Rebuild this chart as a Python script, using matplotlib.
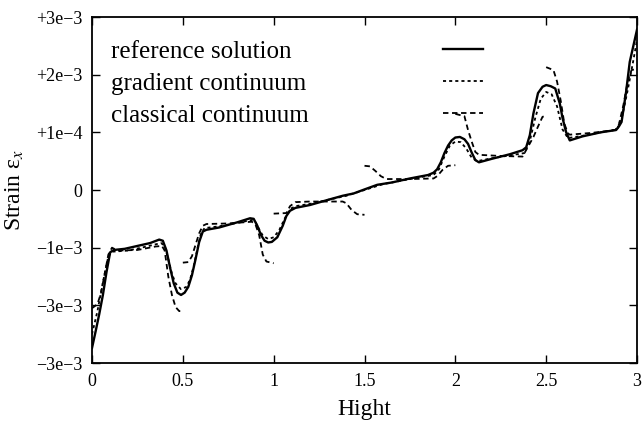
import numpy as np
import matplotlib
matplotlib.use("Agg")
import matplotlib.pyplot as plt

plt.rcParams['font.family'] = ['Liberation Serif', 'DejaVu Serif']
plt.rcParams['mathtext.fontset'] = 'stix'

# ---------------- data (strain in units of 1e-3) ----------------
ref_x = [0.00, 0.02, 0.04, 0.06, 0.08, 0.10, 0.12, 0.18, 0.25, 0.32, 0.37, 0.39, 0.41, 0.43,
         0.45, 0.47, 0.49, 0.51, 0.53, 0.55, 0.57, 0.59, 0.61, 0.63, 0.70, 0.80, 0.87, 0.89,
         0.91, 0.93, 0.95, 0.97, 0.99, 1.02, 1.05, 1.07, 1.09, 1.12, 1.20, 1.30, 1.38, 1.44,
         1.50, 1.57, 1.65, 1.75, 1.85, 1.88, 1.90, 1.92, 1.94, 1.96, 1.98, 2.00, 2.025, 2.05,
         2.07, 2.09, 2.11, 2.13, 2.20, 2.30, 2.37, 2.39, 2.41, 2.43, 2.455, 2.48, 2.50, 2.525,
         2.55, 2.575, 2.59, 2.61, 2.63, 2.70, 2.80, 2.885, 2.90, 2.915, 2.94, 2.96, 2.98, 3.00]
ref_y = [-2.74, -2.45, -2.15, -1.82, -1.42, -1.08, -1.04, -1.02, -0.97, -0.92, -0.86, -0.88,
         -1.05, -1.35, -1.62, -1.78, -1.82, -1.78, -1.68, -1.48, -1.20, -0.90, -0.72, -0.69,
         -0.65, -0.56, -0.49, -0.50, -0.62, -0.78, -0.88, -0.91, -0.90, -0.82, -0.62, -0.45,
         -0.36, -0.31, -0.26, -0.17, -0.10, -0.06, 0.01, 0.09, 0.13, 0.20, 0.26, 0.30, 0.36,
         0.48, 0.64, 0.77, 0.86, 0.91, 0.92, 0.88, 0.80, 0.65, 0.52, 0.48, 0.54, 0.62, 0.69,
         0.74, 0.95, 1.33, 1.68, 1.79, 1.82, 1.80, 1.76, 1.50, 1.25, 1.00, 0.86, 0.93, 1.00,
         1.04, 1.10, 1.18, 1.70, 2.22, 2.50, 2.78]

grad_x = [0.00, 0.03, 0.06, 0.09, 0.11, 0.20, 0.30, 0.38, 0.40, 0.42, 0.44, 0.46, 0.49, 0.52,
          0.54, 0.56, 0.58, 0.60, 0.62, 0.70, 0.80, 0.88, 0.90, 0.92, 0.94, 0.97, 1.00, 1.03,
          1.06, 1.09, 1.12, 1.20, 1.30, 1.40, 1.50, 1.60, 1.70, 1.80, 1.88, 1.91, 1.94, 1.97,
          2.00, 2.03, 2.06, 2.09, 2.12, 2.20, 2.30, 2.38, 2.41, 2.44, 2.47, 2.50, 2.53, 2.56,
          2.59, 2.62, 2.70, 2.80, 2.89, 2.92, 2.95, 2.98, 3.00]
grad_y = [-2.50, -2.10, -1.60, -1.15, -1.07, -1.05, -0.98, -0.92, -0.97, -1.20, -1.45, -1.62,
          -1.72, -1.68, -1.55, -1.32, -1.02, -0.75, -0.66, -0.63, -0.57, -0.52, -0.56, -0.68,
          -0.79, -0.85, -0.82, -0.70, -0.50, -0.33, -0.28, -0.24, -0.17, -0.10, 0.00, 0.10,
          0.16, 0.22, 0.26, 0.36, 0.58, 0.77, 0.84, 0.83, 0.72, 0.56, 0.50, 0.55, 0.60, 0.64,
          0.85, 1.25, 1.58, 1.70, 1.66, 1.45, 1.05, 0.90, 0.94, 1.00, 1.05, 1.30, 1.75, 2.25,
          2.60]

# classical continuum: element-wise solution, discontinuous at element borders (None = break)
cls_x = [0.00, 0.03, 0.05, 0.07, 0.09, 0.11, 0.14, 0.25, 0.35, 0.385, 0.40, 0.42, 0.44, 0.46,
         0.48, 0.50, None,
         0.50, 0.53, 0.55, 0.57, 0.59, 0.61, 0.63, 0.75, 0.88, 0.90, 0.92, 0.94, 0.96, 1.00, None,
         1.00, 1.07, 1.09, 1.12, 1.20, 1.38, 1.40, 1.43, 1.46, 1.50, None,
         1.50, 1.53, 1.56, 1.59, 1.62, 1.75, 1.88, 1.90, 1.93, 1.96, 2.00, None,
         2.00, 2.05, 2.07, 2.09, 2.11, 2.13, 2.25, 2.37, 2.40, 2.43, 2.455, 2.48, 2.50, None,
         2.50, 2.54, 2.56, 2.58, 2.60, 2.62, 2.63, 2.75, 2.88, 2.90, 2.925, 2.95, 2.97, 3.00]
cls_y = [-2.05, -1.98, -1.78, -1.45, -1.12, -1.00, -1.05, -1.04, -0.98, -0.97, -1.05, -1.50,
         -1.82, -2.03, -2.10, -2.10, None,
         -1.26, -1.25, -1.15, -0.95, -0.75, -0.62, -0.59, -0.58, -0.55, -0.60, -0.78, -1.12,
         -1.24, -1.27, None,
         -0.41, -0.40, -0.28, -0.21, -0.20, -0.20, -0.23, -0.35, -0.42, -0.43, None,
         0.42, 0.41, 0.33, 0.24, 0.19, 0.19, 0.20, 0.24, 0.35, 0.42, 0.43, None,
         1.32, 1.28, 1.04, 0.84, 0.66, 0.61, 0.59, 0.58, 0.75, 0.92, 1.10, 1.27, 1.28, None,
         2.13, 2.08, 1.88, 1.55, 1.15, 0.98, 0.96, 0.99, 1.04, 1.13, 1.47, 1.90, 2.08, 2.10]

series_labels = ["reference solution", "gradient continuum", "classical continuum"]
x_ticks = [0, 0.5, 1, 1.5, 2, 2.5, 3]
x_tick_labels = ["0", "0.5", "1", "1.5", "2", "2.5", "3"]
y_ticks = [-3, -2, -1, 0, 1, 2, 3]
y_tick_labels = ["\u22123e\u22123", "\u22123e\u22123", "\u22121e\u22123", "0",
                 "+1e\u22124", "+2e\u22123", "+3e\u22123"]

# ---------------- figure ----------------
fig = plt.figure(figsize=(6.44, 4.23), dpi=100)
ax = fig.add_axes([92/644, 1-363/423, (637-92)/644, (363-17)/423])

def arr(v):
    return np.array([np.nan if a is None else a for a in v], dtype=float)

styles = [dict(color='black', lw=1.7, linestyle='-'),
          dict(color='black', lw=1.3, linestyle=(0, (1.7, 1.7))),
          dict(color='black', lw=1.3, linestyle=(0, (3.0, 2.0)))]

ax.plot(arr(ref_x), arr(ref_y), **styles[0])
ax.plot(arr(grad_x), arr(grad_y), **styles[1])
ax.plot(arr(cls_x), arr(cls_y), **styles[2])

ax.set_xlim(0, 3)
ax.set_ylim(-3, 3)
ax.set_xticks(x_ticks)
ax.set_xticklabels(x_tick_labels)
ax.set_yticks(y_ticks)
ax.set_yticklabels(y_tick_labels)
ax.tick_params(direction='in', length=6, width=1.0, top=True, right=True,
               labelsize=13, pad=7)
for s in ax.spines.values():
    s.set_linewidth(1.3)

ax.set_xlabel("Hight", fontsize=17, labelpad=7)
ax.set_ylabel("Strain \u03b5$_x$", fontsize=17, labelpad=7)

# gnuplot-style key: text left, sample line right
row_y = [0.9075, 0.815, 0.7225]
for lab, st, yy in zip(series_labels, styles, row_y):
    ax.text(0.035, yy, lab, transform=ax.transAxes, fontsize=18,
            va='center_baseline', ha='left')
    ax.plot([0.644, 0.7174], [yy, yy], transform=ax.transAxes, **st)

fig.savefig("out.png", dpi=100)
